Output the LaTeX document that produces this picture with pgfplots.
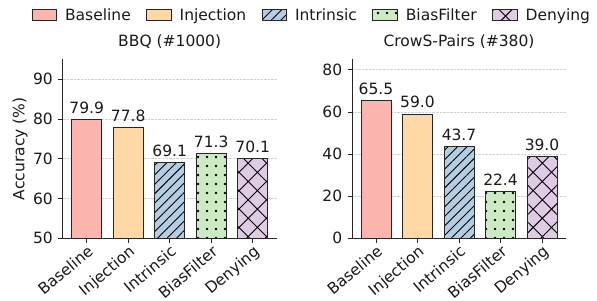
\documentclass[border=0pt]{standalone}
\usepackage{fontspec}
\setmainfont{DejaVu Sans}
\usepackage{pgfplots}
\pgfplotsset{compat=1.18}
\usetikzlibrary{patterns.meta}
\definecolor{cBase}{HTML}{FBB4AE}
\definecolor{cInj}{HTML}{FED9A6}
\definecolor{cIntr}{HTML}{B3CDE3}
\definecolor{cBias}{HTML}{CCEBC5}
\definecolor{cDeny}{HTML}{DECBE4}
\newcommand\ff{\fontsize{15.5bp}{18.6bp}\selectfont}
\pgfplotsset{
  mybar/.style={
    scale only axis, width=214bp, height=179bp,
    ybar, bar width=30bp,
    axis lines=left, axis line style={-, black!85, line width=0.9bp},
    xmin=-0.578, xmax=4.578,
    xtick={0,1,2,3,4},
    xticklabels={Baseline,Injection,Intrinsic,BiasFilter,Denying},
    xticklabel style={rotate=40, anchor=north east, inner sep=1bp, font=\ff, text=black!90},
    yticklabel style={font=\ff, text=black!90},
    tick style={black!85, line width=0.9bp},
    major tick length=4.5bp, tick align=outside,
    /pgf/number format/assume math mode=true,
    ymajorgrids, grid style={densely dotted, black!18, line width=0.7bp},
    title style={at={(0.5,1)}, anchor=base, yshift=7bp, font=\ff, text=black!90},
    nodes near coords,
    nodes near coords style={font=\ff, text=black!90, anchor=south, inner sep=0pt, yshift=5.5bp,
      /pgf/number format/.cd, fixed, fixed zerofill, precision=1},
    legend image code/.code={\draw[##1] (0bp,-5.5bp) rectangle (24.5bp,5.5bp);},
  },
  pb/.style={bar shift=0pt, draw=black!85, line width=0.9bp},
}
\begin{document}
\ff
\begin{tikzpicture}
\useasboundingbox (0,0) rectangle (597bp,301bp);
\begin{axis}[mybar, at={(62.7bp,62.7bp)}, anchor=south west,
  ymin=50, ymax=95, ytick={50,60,70,80,90},
  title={BBQ (\#1000)},
  ylabel={Accuracy (\%)},
  every axis y label/.style={at={(rel axis cs:0,0.5)}, xshift=-42.7bp, rotate=90, anchor=center, font=\ff, text=black!90},
  legend columns=5,
  legend style={draw=none, fill=none, inner sep=0pt, outer sep=0pt, at={(-0.145,1.245)}, anchor=west,
    font=\ff, text=black!90, nodes={inner sep=0pt},
    /tikz/every odd column/.append style={column sep=8bp},
    /tikz/every even column/.append style={column sep=15.5bp}},
]
\addplot[pb, fill=cBase] coordinates {(0,79.9)};
\addplot[pb, fill=cInj] coordinates {(1,77.8)};
\addplot[pb, fill=cIntr, postaction={pattern={Lines[angle=45,distance=6.7bp,line width=0.9bp]}, pattern color=black}] coordinates {(2,69.1)};
\addplot[pb, fill=cBias, postaction={pattern={Dots[distance=9bp,radius=1.3bp]}, pattern color=black}] coordinates {(3,71.3)};
\addplot[pb, fill=cDeny, postaction={pattern={Hatch[angle=45,distance=13bp,line width=0.9bp]}, pattern color=black}] coordinates {(4,70.1)};
\legend{Baseline,Injection,Intrinsic,BiasFilter,Denying}
\end{axis}
\begin{axis}[mybar, at={(352bp,62.7bp)}, anchor=south west,
  ymin=0, ymax=85, ytick={0,20,40,60,80},
  title={CrowS-Pairs (\#380)},
]
\addplot[pb, fill=cBase] coordinates {(0,65.5)};
\addplot[pb, fill=cInj] coordinates {(1,59.0)};
\addplot[pb, fill=cIntr, postaction={pattern={Lines[angle=45,distance=6.7bp,line width=0.9bp]}, pattern color=black}] coordinates {(2,43.7)};
\addplot[pb, fill=cBias, postaction={pattern={Dots[distance=9bp,radius=1.3bp]}, pattern color=black}] coordinates {(3,22.4)};
\addplot[pb, fill=cDeny, postaction={pattern={Hatch[angle=45,distance=13bp,line width=0.9bp]}, pattern color=black}] coordinates {(4,39.0)};
\end{axis}
\end{tikzpicture}
\end{document}
